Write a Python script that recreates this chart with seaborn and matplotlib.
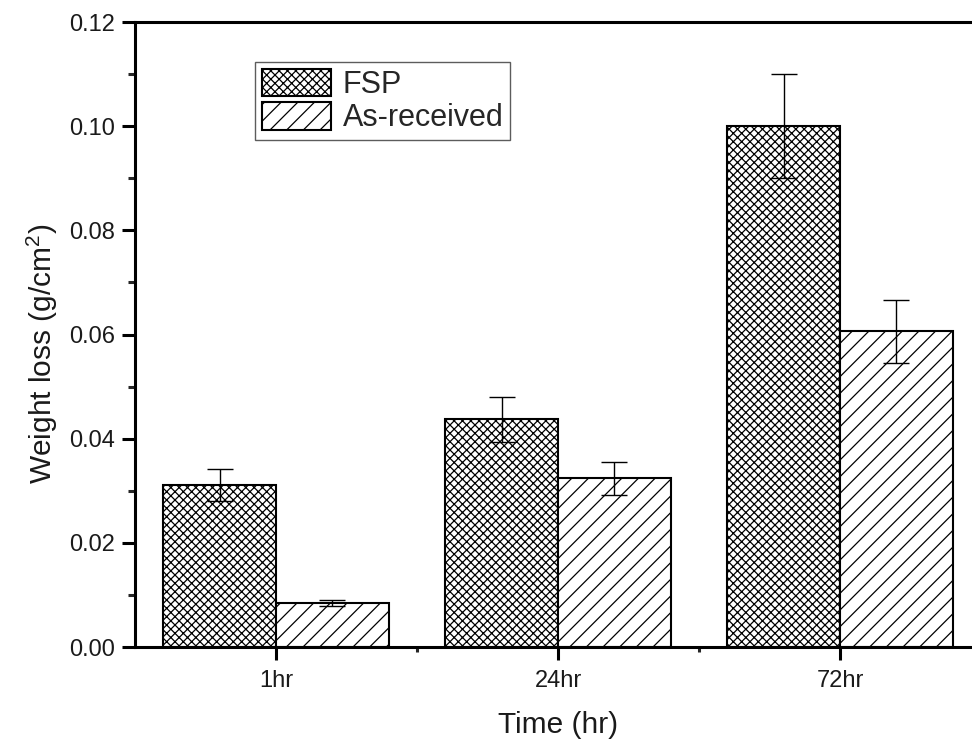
import matplotlib
matplotlib.use("Agg")
import matplotlib.pyplot as plt
import matplotlib.ticker as mticker
import numpy as np
import pandas as pd
import seaborn as sns

# Weight loss measurements after immersion
times = ["1hr", "24hr", "72hr"]
samples = ["FSP", "As-received"]
fsp_loss = [0.0311, 0.0437, 0.1000]
fsp_err = [0.0030, 0.0043, 0.0100]
asrec_loss = [0.0085, 0.0324, 0.0606]
asrec_err = [0.0006, 0.0032, 0.0060]
hatches = ["xxxx", "//"]

df = pd.DataFrame({
    "Time": times * 2,
    "Sample": [samples[0]] * len(times) + [samples[1]] * len(times),
    "Loss": fsp_loss + asrec_loss,
})

sns.set_style("ticks")
plt.rcParams["font.family"] = ["Liberation Sans", "DejaVu Sans"]
plt.rcParams["mathtext.default"] = "regular"
plt.rcParams["hatch.linewidth"] = 0.9
plt.rcParams["hatch.color"] = "black"

fig = plt.figure(figsize=(9.72, 7.46), dpi=100)
ax = fig.add_axes([0.1389, 0.1327, 0.8704, 0.8378])

sns.barplot(data=df, x="Time", y="Loss", hue="Sample", order=times,
            hue_order=samples, palette=["white", "white"], edgecolor="black",
            linewidth=1.5, errorbar=None, legend=False, ax=ax, width=0.8)

err_sets = [fsp_err, asrec_err]
val_sets = [fsp_loss, asrec_loss]
for cont, hatch, vals, errs in zip(ax.containers, hatches, val_sets, err_sets):
    xs = []
    for patch in cont.patches:
        patch.set_hatch(hatch)
        patch.set_facecolor("white")
        patch.set_edgecolor("black")
        xs.append(patch.get_x() + patch.get_width() / 2)
    ax.errorbar(xs, vals, yerr=errs, fmt="none", ecolor="black",
                elinewidth=1.0, capsize=9.4, capthick=1.0, zorder=5)

ax.set_xlim(-0.5, 2.5)
ax.set_ylim(0, 0.12)
ax.yaxis.set_major_locator(mticker.MultipleLocator(0.02))
ax.yaxis.set_minor_locator(mticker.MultipleLocator(0.01))
ax.yaxis.set_major_formatter(mticker.FormatStrFormatter("%.2f"))
ax.xaxis.set_minor_locator(mticker.FixedLocator([0.5, 1.5]))

for side in ["left", "bottom", "top", "right"]:
    ax.spines[side].set_linewidth(2.2)
    ax.spines[side].set_color("black")

ax.tick_params(axis="both", which="major", direction="out", length=9.4,
               width=2.2, labelsize=17, pad=5, colors="black",
               labelcolor="#1a1a1a", top=False, right=False)
ax.tick_params(axis="y", which="minor", direction="out", length=5,
               width=2.2, right=False)
ax.tick_params(axis="x", which="minor", direction="out", length=3.5,
               width=2.2, top=False)
ax.tick_params(axis="x", which="major", pad=7)

ax.set_xlabel("Time (hr)", fontsize=21.5, color="#1a1a1a")
ax.set_ylabel("Weight loss (g/cm$^2$)", fontsize=21.5, color="#1a1a1a")
ax.xaxis.set_label_coords(0.5, -0.102)
ax.yaxis.set_label_coords(-0.089, 0.469)

leg = ax.legend(handles=ax.containers, labels=samples, loc="upper left",
                bbox_to_anchor=(0.142, 0.936), borderaxespad=0,
                fontsize=22, frameon=True, fancybox=False,
                handlelength=2.25, handleheight=1.0, handletextpad=0.4,
                labelspacing=0.08, borderpad=0.22)
leg.get_frame().set_edgecolor("#333333")
leg.get_frame().set_linewidth(1.0)

fig.savefig("out.png", dpi=100, facecolor="white")
